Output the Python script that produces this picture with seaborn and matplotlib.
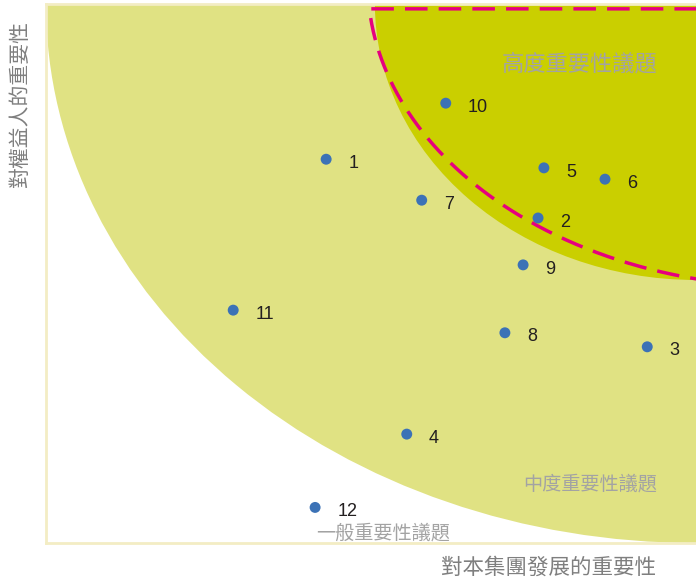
import numpy as np
import pandas as pd
import matplotlib
matplotlib.use("Agg")
import matplotlib.pyplot as plt
from matplotlib.patches import Ellipse
import seaborn as sns

# ---- data (0-100 scale on both axes) ----
labels = ["1", "2", "3", "4", "5", "6", "7", "8", "9", "10", "11", "12"]
x_importance_group = [43.1, 75.7, 92.5, 55.5, 76.6, 86.0, 57.8, 70.6, 73.4, 61.5, 28.8, 41.4]
y_importance_stakeholder = [71.2, 60.3, 36.4, 20.2, 69.6, 67.5, 63.6, 39.0, 51.6, 81.6, 43.2, 6.6]
zone_labels = ["高度重要性議題", "中度重要性議題", "一般重要性議題"]
x_title = "對本集團發展的重要性"
y_title = "對權益人的重要性"

df = pd.DataFrame({"x": x_importance_group, "y": y_importance_stakeholder, "label": labels})

sns.set_style("white")
plt.rcParams["font.family"] = ["Noto Sans CJK TC", "DejaVu Sans"]

fig = plt.figure(figsize=(6.96, 5.83), dpi=100)
ax = fig.add_axes([46/696, 40/583, 650/696, 539/583])
ax.set_xlim(0, 100)
ax.set_ylim(0, 100)

light = "#e0e283"
dark = "#cacf00"
ax.add_patch(Ellipse((100, 100), 200, 200, facecolor=light, edgecolor="none", zorder=0))
ax.add_patch(Ellipse((100, 100), 2 * 49.4, 2 * 51.2, facecolor=dark, edgecolor="none", zorder=1))

# dashed boundary of high-importance zone (flatter arc + top edge)
xc, yc, a, b = 115.0, 104.0, 65.5, 56.5
t = np.linspace(0, np.pi / 2, 400)
arc_x = xc - a * np.cos(t)
arc_y = yc - b * np.sin(t)
top_y = 99.1
keep = (arc_y <= top_y) & (arc_x <= 101)
arc_x, arc_y = arc_x[keep], arc_y[keep]
dx = np.concatenate([[101.0, arc_x[0]], arc_x])
dy = np.concatenate([[top_y, top_y], arc_y])
ax.plot(dx, dy, color="#e6007e", lw=2.5, dashes=(6.5, 3.2), zorder=2,
        solid_joinstyle="miter", dash_joinstyle="miter")

sns.scatterplot(data=df, x="x", y="y", ax=ax, s=62, color="#3c72b6",
                edgecolor="none", zorder=3, legend=False)
for xi, yi, lab in zip(df["x"], df["y"], df["label"]):
    ax.annotate(lab, (xi, yi), xytext=(16, -3), textcoords="offset points",
                fontsize=13, color="#231f20", va="center", ha="left",
                family=["Liberation Sans", "DejaVu Sans"], zorder=4)

gray = "#a3a3a3"
ax.text(94, 88.8, zone_labels[0], fontsize=16, color=gray, ha="right", va="center", zorder=4)
ax.text(94, 11.0, zone_labels[1], fontsize=13.8, color=gray, ha="right", va="center", zorder=4)
ax.text(51.8, 1.9, zone_labels[2], fontsize=13.8, color=gray, ha="center", va="center", zorder=4)

ax.set_xlabel("")
ax.set_ylabel("")
ax.set_xticks([])
ax.set_yticks([])
fig.text(656/696, 1 - 568/583, x_title, fontsize=15.5, color="#7f7f7f", ha="right", va="center")
fig.text(20/696, 1 - 105/583, y_title, fontsize=15, color="#7f7f7f", ha="center", va="center", rotation=90)

spine_c = "#f3edc4"
for side in ["left", "bottom", "top"]:
    ax.spines[side].set_color(spine_c)
    ax.spines[side].set_linewidth(2)
ax.spines["right"].set_visible(False)

fig.savefig("out.png", dpi=100)
